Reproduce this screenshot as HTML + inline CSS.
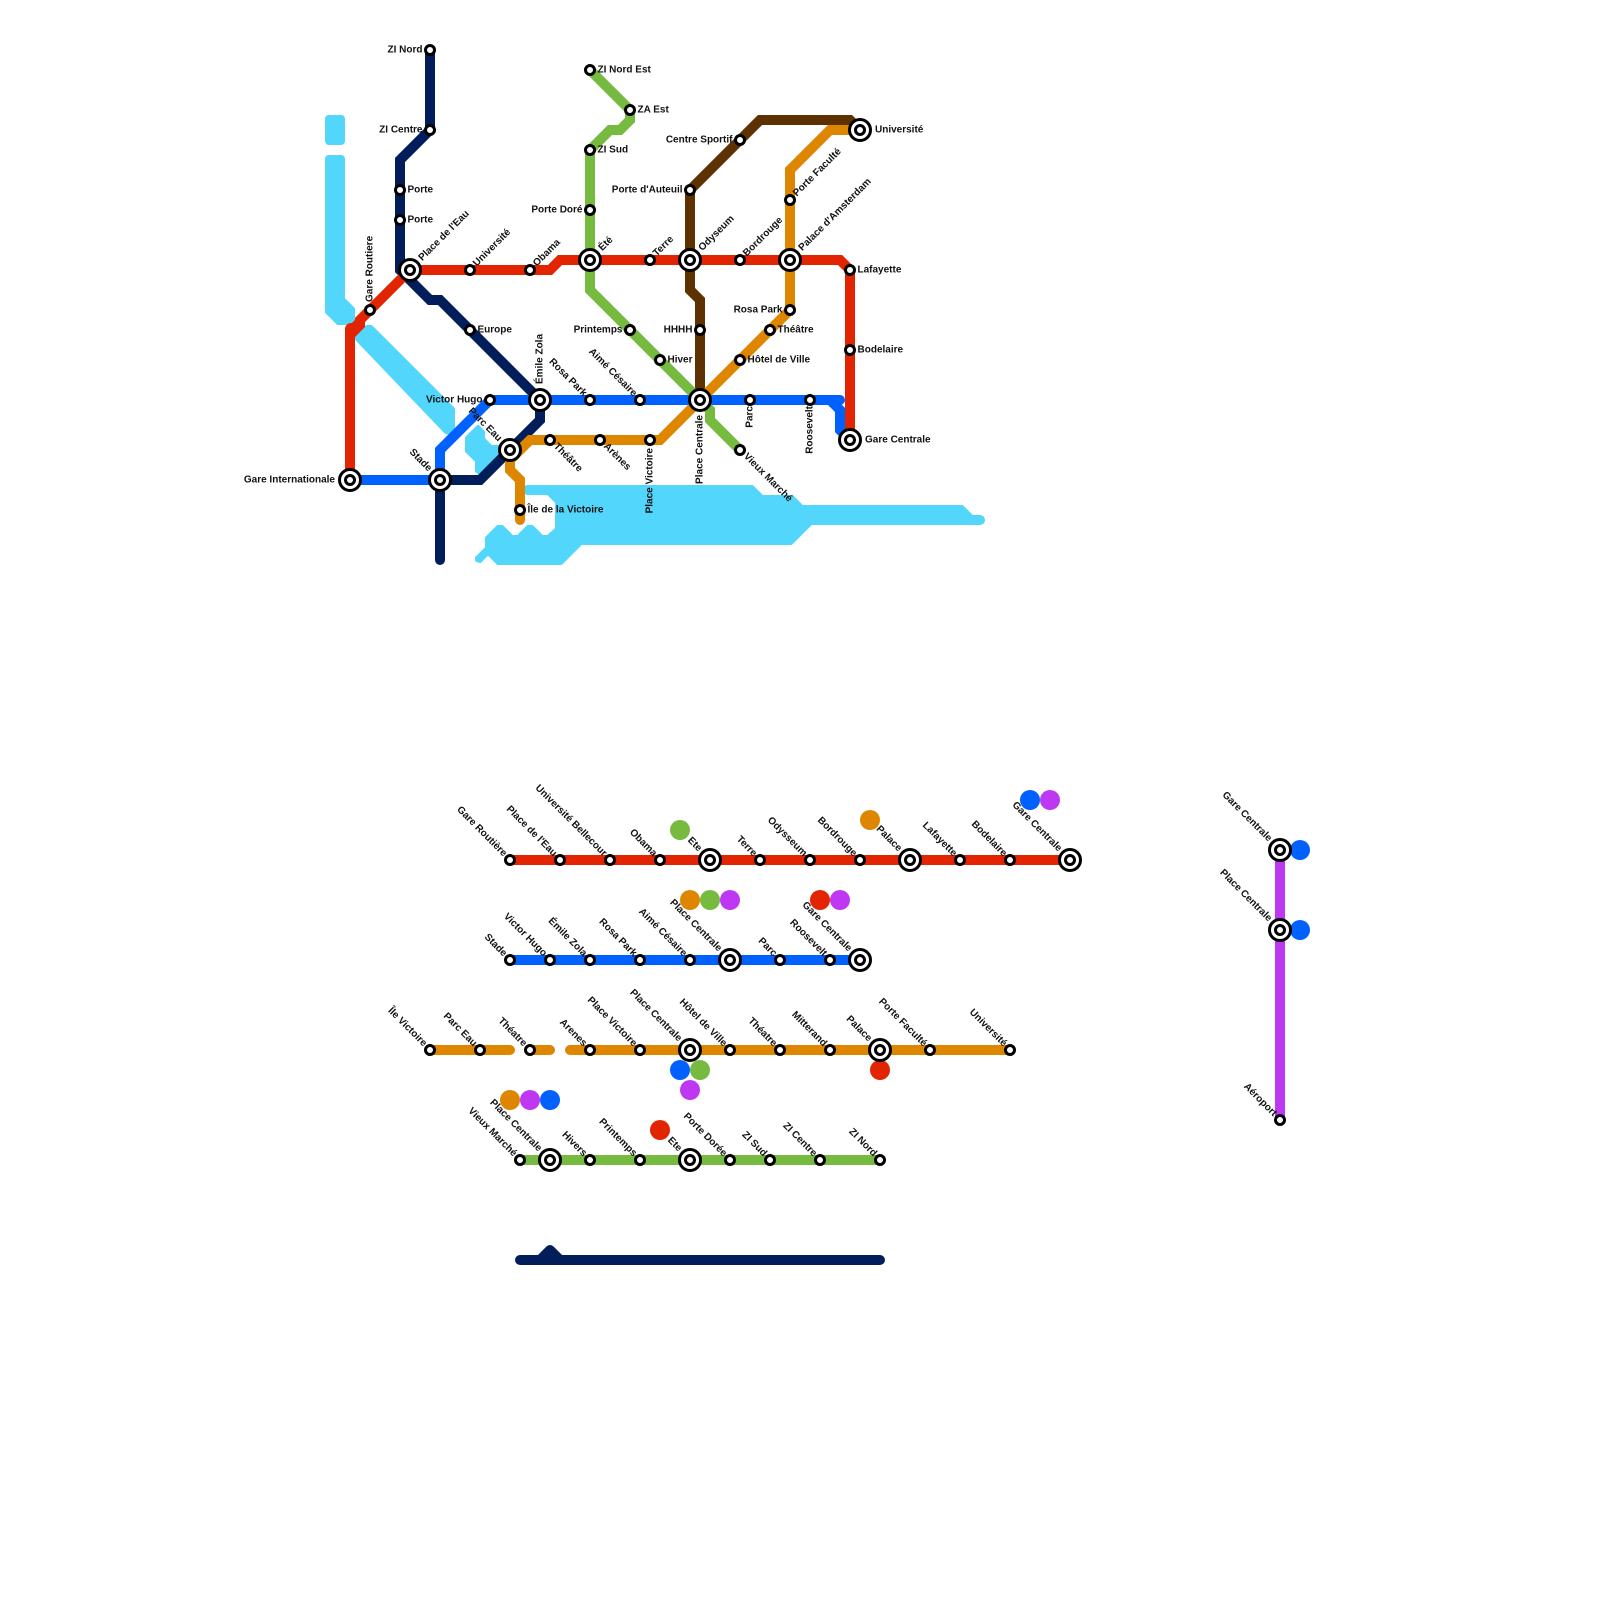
<!DOCTYPE html>
<html><head><meta charset="utf-8"><style>
html,body{margin:0;padding:0;background:#fff}
svg{display:block}
.l{fill:none;stroke-width:10;stroke-linejoin:miter;stroke-linecap:round}
text{font-family:"Liberation Sans",sans-serif;font-size:10px;font-weight:bold;fill:#111;dominant-baseline:central}
.e{text-anchor:end}
</style></head><body>
<svg width="1600" height="1600" viewBox="0 0 1600 1600" xmlns="http://www.w3.org/2000/svg">
<defs>
<g id="s"><circle r="4.5" fill="#fff" stroke="#000" stroke-width="3"/></g>
<g id="i"><circle r="10.5" fill="#fff" stroke="#000" stroke-width="3"/><circle r="4.5" fill="#fff" stroke="#000" stroke-width="3"/></g>
</defs>
<g fill="#52d6fc" stroke="#52d6fc" stroke-width="4" stroke-linejoin="round">
<rect x="325" y="115" width="20" height="30" rx="4" stroke="none"/>
<rect x="325" y="155" width="20" height="30" rx="4" stroke="none"/>
<circle cx="980" cy="520" r="5" stroke="none"/>
<polygon points="327,165 343,165 343,299 353,309 353,323 338,323 327,312"/>
<polygon points="367,327 371,327 453,409 453,428 450,433 446,432 357,339 357,336"/>
<polygon points="478,427 483,432 483,439 491,447 510,447 510,452 480,473 477,471 477,461 467,451 467,438"/>
<polygon points="527,487 752,487 762,497 792,497 802,507 962,507 972,517 980,517 980,523 811,523 791,543 581,543 561,563 498,563 488,553 480,561 477,560 477,558 487,548 487,538 498,527 502,527 512,537 518,537 528,527 532,527 542,537 548,537 557,529 557,502 548,493 527,493 525,490"/>
</g>
<path class="l" stroke="#011e5a" d="M430 50V130L400 160V270L430 300H440L540 400V420L480 480H440M440 480V560"/>
<path class="l" stroke="#0061fe" d="M350 480H440V450L490 400H830L840 410V430L850 440"/>
<path class="l" stroke="#0061fe" d="M830 400H840"/>
<path class="l" stroke="#5e3200" d="M860 130L850 120H760L690 190V290L700 300V400"/>
<path class="l" stroke="#76bb40" d="M590 70L630 110V120L620 130H610L590 150V290L700 400L710 410V420L740 450"/>
<path class="l" stroke="#df8600" d="M860 130H830L790 170V310L660 440H530L510 460V470L520 480V520"/>
<path class="l" stroke="#e32400" d="M350 480V332L360 322V320L410 270H550L560 260H840L850 270V440"/>
<circle cx="351" cy="329" r="6" fill="#e32400"/>
<polygon points="355,337 365,327 365,318 355,325" fill="#e32400"/>
<path class="l" stroke="#e32400" d="M510 860H1070"/>
<path class="l" stroke="#0061fe" d="M510 960H860"/>
<path class="l" stroke="#df8600" d="M430 1050H510M530 1050H550M570 1050H1010"/>
<path class="l" stroke="#76bb40" d="M520 1160H880"/>
<path class="l" stroke="#011e5a" style="stroke-linejoin:round" d="M520 1260H880M540 1260L550 1250L560 1260"/>
<path class="l" stroke="#be38f3" d="M1280 850V1120"/>
<g>
<circle cx="680" cy="830" r="10" fill="#76bb40"/><circle cx="870" cy="820" r="10" fill="#df8600"/><circle cx="1030" cy="800" r="10" fill="#0061fe"/><circle cx="1050" cy="800" r="10" fill="#be38f3"/>
<circle cx="690" cy="900" r="10" fill="#df8600"/><circle cx="710" cy="900" r="10" fill="#76bb40"/><circle cx="730" cy="900" r="10" fill="#be38f3"/><circle cx="820" cy="900" r="10" fill="#e32400"/><circle cx="840" cy="900" r="10" fill="#be38f3"/>
<circle cx="680" cy="1070" r="10" fill="#0061fe"/><circle cx="700" cy="1070" r="10" fill="#76bb40"/><circle cx="690" cy="1090" r="10" fill="#be38f3"/><circle cx="880" cy="1070" r="10" fill="#e32400"/>
<circle cx="510" cy="1100" r="10" fill="#df8600"/><circle cx="530" cy="1100" r="10" fill="#be38f3"/><circle cx="550" cy="1100" r="10" fill="#0061fe"/><circle cx="660" cy="1130" r="10" fill="#e32400"/>
<circle cx="1300" cy="850" r="10" fill="#0061fe"/><circle cx="1300" cy="930" r="10" fill="#0061fe"/>
</g>
<!-- stations top -->
<use href="#s" x="430" y="50"/><use href="#s" x="430" y="130"/><use href="#s" x="400" y="190"/><use href="#s" x="400" y="220"/><use href="#s" x="370" y="310"/><use href="#s" x="470" y="270"/><use href="#s" x="530" y="270"/><use href="#s" x="470" y="330"/><use href="#s" x="490" y="400"/><use href="#s" x="590" y="400"/><use href="#s" x="640" y="400"/><use href="#s" x="550" y="440"/><use href="#s" x="600" y="440"/><use href="#s" x="650" y="440"/><use href="#s" x="520" y="510"/><use href="#s" x="590" y="70"/><use href="#s" x="630" y="110"/><use href="#s" x="590" y="150"/><use href="#s" x="590" y="210"/><use href="#s" x="650" y="260"/><use href="#s" x="630" y="330"/><use href="#s" x="660" y="360"/><use href="#s" x="690" y="190"/><use href="#s" x="740" y="140"/><use href="#s" x="740" y="260"/><use href="#s" x="700" y="330"/><use href="#s" x="790" y="200"/><use href="#s" x="790" y="310"/><use href="#s" x="770" y="330"/><use href="#s" x="740" y="360"/><use href="#s" x="750" y="400"/><use href="#s" x="810" y="400"/><use href="#s" x="740" y="450"/><use href="#s" x="850" y="270"/><use href="#s" x="850" y="350"/>
<use href="#i" x="350" y="480"/><use href="#i" x="440" y="480"/><use href="#i" x="410" y="270"/><use href="#i" x="510" y="450"/><use href="#i" x="540" y="400"/><use href="#i" x="590" y="260"/><use href="#i" x="690" y="260"/><use href="#i" x="700" y="400"/><use href="#i" x="790" y="260"/><use href="#i" x="860" y="130"/><use href="#i" x="850" y="440"/>
<!-- stations rows -->
<use href="#s" x="510" y="860"/><use href="#s" x="560" y="860"/><use href="#s" x="610" y="860"/><use href="#s" x="660" y="860"/><use href="#i" x="710" y="860"/><use href="#s" x="760" y="860"/><use href="#s" x="810" y="860"/><use href="#s" x="860" y="860"/><use href="#i" x="910" y="860"/><use href="#s" x="960" y="860"/><use href="#s" x="1010" y="860"/><use href="#i" x="1070" y="860"/>
<use href="#s" x="510" y="960"/><use href="#s" x="550" y="960"/><use href="#s" x="590" y="960"/><use href="#s" x="640" y="960"/><use href="#s" x="690" y="960"/><use href="#i" x="730" y="960"/><use href="#s" x="780" y="960"/><use href="#s" x="830" y="960"/><use href="#i" x="860" y="960"/>
<use href="#s" x="430" y="1050"/><use href="#s" x="480" y="1050"/><use href="#s" x="530" y="1050"/><use href="#s" x="590" y="1050"/><use href="#s" x="640" y="1050"/><use href="#i" x="690" y="1050"/><use href="#s" x="730" y="1050"/><use href="#s" x="780" y="1050"/><use href="#s" x="830" y="1050"/><use href="#i" x="880" y="1050"/><use href="#s" x="930" y="1050"/><use href="#s" x="1010" y="1050"/>
<use href="#s" x="520" y="1160"/><use href="#i" x="550" y="1160"/><use href="#s" x="590" y="1160"/><use href="#s" x="640" y="1160"/><use href="#i" x="690" y="1160"/><use href="#s" x="730" y="1160"/><use href="#s" x="770" y="1160"/><use href="#s" x="820" y="1160"/><use href="#s" x="880" y="1160"/>
<use href="#i" x="1280" y="850"/><use href="#i" x="1280" y="930"/><use href="#s" x="1280" y="1120"/>
<!-- horizontal labels right -->
<text x="407.5" y="190">Porte</text><text x="407.5" y="220">Porte</text><text x="477.5" y="330">Europe</text><text x="527.5" y="510">Île de la Victoire</text><text x="597.5" y="70">ZI Nord Est</text><text x="637.5" y="110">ZA Est</text><text x="597.5" y="150">ZI Sud</text><text x="667.5" y="360">Hiver</text><text x="875" y="130">Université</text><text x="857.5" y="270">Lafayette</text><text x="857.5" y="350">Bodelaire</text><text x="865" y="440">Gare Centrale</text><text x="777.5" y="330">Théâtre</text><text x="747.5" y="360">Hôtel de Ville</text>
<!-- horizontal labels left -->
<text class="e" x="422.5" y="50">ZI Nord</text><text class="e" x="422.5" y="130">ZI Centre</text><text class="e" x="335" y="480">Gare Internationale</text><text class="e" x="482.5" y="400">Victor Hugo</text><text class="e" x="582.5" y="210">Porte Doré</text><text class="e" x="622.5" y="330">Printemps</text><text class="e" x="682.5" y="190">Porte d'Auteuil</text><text class="e" x="732.5" y="140">Centre Sportif</text><text class="e" x="692.5" y="330">HHHH</text><text class="e" x="782.5" y="310">Rosa Park</text>
<!-- up-right -->
<text transform="translate(420.5 259.5) rotate(-45)">Place de l'Eau</text>
<text transform="translate(475 265) rotate(-45)">Université</text>
<text transform="translate(535 265) rotate(-45)">Obama</text>
<text transform="translate(600.5 249.5) rotate(-45)">Été</text>
<text transform="translate(655 255) rotate(-45)">Terre</text>
<text transform="translate(700.5 249.5) rotate(-45)">Odyseum</text>
<text transform="translate(745 255) rotate(-45)">Bordrouge</text>
<text transform="translate(800.5 249.5) rotate(-45)">Palace d'Amsterdam</text>
<text transform="translate(795 195) rotate(-45)">Porte Faculté</text>
<!-- vertical -->
<text transform="translate(370 302) rotate(-90)">Gare Routiere</text>
<text transform="translate(540 384) rotate(-90)">Émile Zola</text>
<text class="e" transform="translate(650 448) rotate(-90)">Place Victoire</text>
<text class="e" transform="translate(700 415) rotate(-90)">Place Centrale</text>
<text class="e" transform="translate(750 406) rotate(-90)">Parc</text>
<text class="e" transform="translate(810 406) rotate(-90)">Roosevelt</text>
<!-- down-right -->
<text transform="translate(555 445) rotate(45)">Théâtre</text>
<text transform="translate(605 445) rotate(45)">Arènes</text>
<text transform="translate(745 455) rotate(45)">Vieux Marché</text>
<!-- end at station, 45deg -->
<text class="e" transform="translate(430 470) rotate(45)">Stade</text>
<text class="e" transform="translate(500 440) rotate(45)">Parc Eau</text>
<text class="e" transform="translate(585 395) rotate(45)">Rosa Park</text>
<text class="e" transform="translate(635 395) rotate(45)">Aimé Césaire</text>
<text class="e" transform="translate(505 855) rotate(45)">Gare Routière</text>
<text class="e" transform="translate(555 855) rotate(45)">Place de l'Eau</text>
<text class="e" transform="translate(605 855) rotate(45)">Université Bellecour</text>
<text class="e" transform="translate(655 855) rotate(45)">Obama</text>
<text class="e" transform="translate(700 850) rotate(45)">Ete</text>
<text class="e" transform="translate(755 855) rotate(45)">Terre</text>
<text class="e" transform="translate(805 855) rotate(45)">Odysseum</text>
<text class="e" transform="translate(855 855) rotate(45)">Bordrouge</text>
<text class="e" transform="translate(900 850) rotate(45)">Palace</text>
<text class="e" transform="translate(955 855) rotate(45)">Lafayette</text>
<text class="e" transform="translate(1005 855) rotate(45)">Bodelaire</text>
<text class="e" transform="translate(1060 850) rotate(45)">Gare Centrale</text>
<text class="e" transform="translate(505 955) rotate(45)">Stade</text>
<text class="e" transform="translate(545 955) rotate(45)">Victor Hugo</text>
<text class="e" transform="translate(585 955) rotate(45)">Émile Zola</text>
<text class="e" transform="translate(635 955) rotate(45)">Rosa Park</text>
<text class="e" transform="translate(685 955) rotate(45)">Aimé Césaire</text>
<text class="e" transform="translate(720 950) rotate(45)">Place Centrale</text>
<text class="e" transform="translate(775 955) rotate(45)">Parc</text>
<text class="e" transform="translate(825 955) rotate(45)">Roosevelt</text>
<text class="e" transform="translate(850 950) rotate(45)">Gare Centrale</text>
<text class="e" transform="translate(425 1045) rotate(45)">Île Victoire</text>
<text class="e" transform="translate(475 1045) rotate(45)">Parc Eau</text>
<text class="e" transform="translate(525 1045) rotate(45)">Théatre</text>
<text class="e" transform="translate(585 1045) rotate(45)">Arenes</text>
<text class="e" transform="translate(635 1045) rotate(45)">Place Victoire</text>
<text class="e" transform="translate(680 1040) rotate(45)">Place Centrale</text>
<text class="e" transform="translate(725 1045) rotate(45)">Hôtel de Ville</text>
<text class="e" transform="translate(775 1045) rotate(45)">Théatre</text>
<text class="e" transform="translate(825 1045) rotate(45)">Mitterand</text>
<text class="e" transform="translate(870 1040) rotate(45)">Palace</text>
<text class="e" transform="translate(925 1045) rotate(45)">Porte Faculté</text>
<text class="e" transform="translate(1005 1045) rotate(45)">Université</text>
<text class="e" transform="translate(515 1155) rotate(45)">Vieux Marché</text>
<text class="e" transform="translate(540 1150) rotate(45)">Place Centrale</text>
<text class="e" transform="translate(585 1155) rotate(45)">Hivers</text>
<text class="e" transform="translate(635 1155) rotate(45)">Printemps</text>
<text class="e" transform="translate(680 1150) rotate(45)">Ete</text>
<text class="e" transform="translate(725 1155) rotate(45)">Porte Dorée</text>
<text class="e" transform="translate(765 1155) rotate(45)">ZI Sud</text>
<text class="e" transform="translate(815 1155) rotate(45)">ZI Centre</text>
<text class="e" transform="translate(875 1155) rotate(45)">ZI Nord</text>
<text class="e" transform="translate(1270 840) rotate(45)">Gare Centrale</text>
<text class="e" transform="translate(1270 920) rotate(45)">Place Centrale</text>
<text class="e" transform="translate(1275 1115) rotate(45)">Aéroport</text>
</svg>
</body></html>
